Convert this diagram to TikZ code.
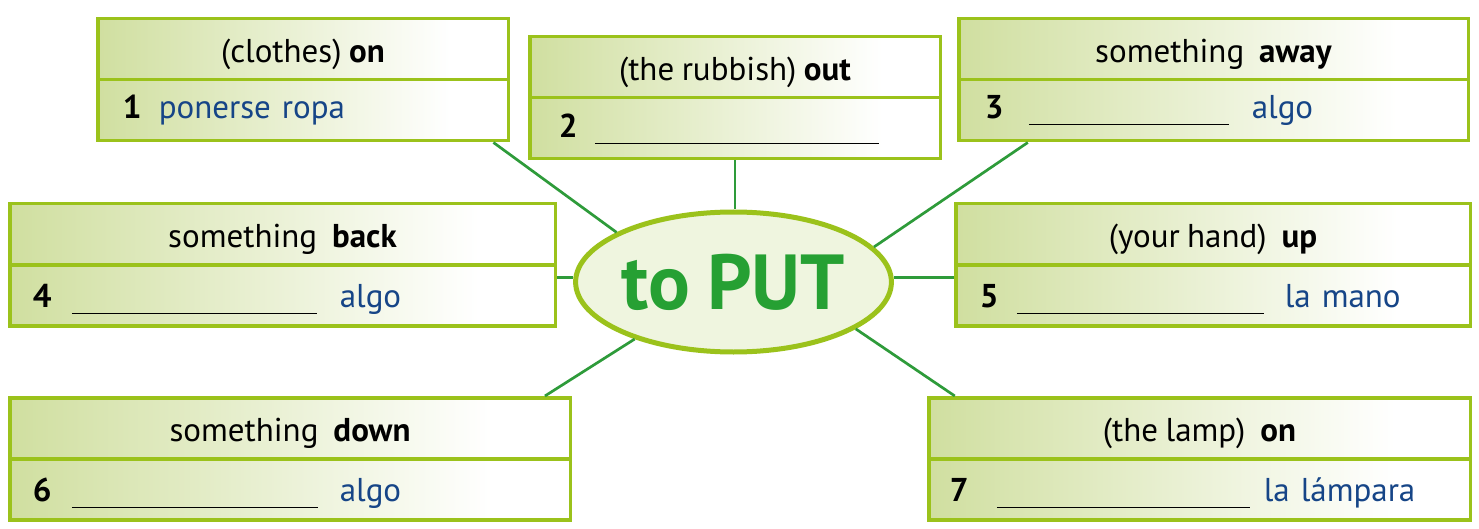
\documentclass[tikz,border=0pt]{standalone}
\usepackage{fontspec}
\setmainfont[WordSpace=0.85]{PT Sans}
\usetikzlibrary{positioning,shapes.geometric,calc}
\definecolor{rimgreen}{HTML}{9BC21B}
\definecolor{fadegreen}{HTML}{D0DFA0}
\definecolor{linkgreen}{HTML}{2E9B3A}
\definecolor{putgreen}{HTML}{26A033}
\definecolor{putfill}{HTML}{EFF5DF}
\definecolor{wordblue}{HTML}{164587}
\pgfdeclarehorizontalshading{boxfade}{100bp}{color(0bp)=(fadegreen); color(25bp)=(fadegreen); color(68bp)=(white); color(100bp)=(white)}
\newcommand{\blank}[1]{\rule[-7pt]{#1}{1.3pt}}
\tikzset{
  headbox/.style={draw=rimgreen, line width=3.5pt, shading=boxfade, minimum height=61pt,
    inner sep=0pt, text height=28pt, text depth=2pt, font=\fontsize{33}{38}\selectfont},
  rowbox/.style={headbox, align=left, text height=26pt, text depth=2pt},
  putnode/.style={ellipse, draw=rimgreen, line width=5pt, fill=putfill, minimum width=308pt,
    minimum height=140pt, inner sep=0pt, text=putgreen, font=\fontsize{78}{82}\selectfont\bfseries},
  link/.style={draw=linkgreen, line width=2.7pt}
}
\begin{document}
\begin{tikzpicture}[x=1pt,y=-1pt]
  \useasboundingbox (0,0) rectangle (1479,529);
  % centre
  \node[putnode] (put) at (733.5,282) {to PUT};
  % boxes
  \node[headbox, minimum width=410.5pt, anchor=north west] (h1) at (96,17) {(clothes) \textbf{on}};
  \node[rowbox, text width=410.5pt, text height=22pt, text depth=6pt, below=-3.5pt of h1] (r1)
    {\hspace*{25pt}\makebox[36pt][l]{\textbf{1}}\textcolor{wordblue}{ponerse ropa}};
  \node[headbox, minimum width=410.5pt, anchor=north west] (h2) at (528,35) {(the rubbish) \textbf{out}};
  \node[rowbox, text width=410.5pt, text height=23pt, text depth=5pt, below=-3.5pt of h2] (r2)
    {\hspace*{29pt}\makebox[36pt][l]{\textbf{2}}\blank{284pt}};
  \node[headbox, minimum width=509.5pt, anchor=north west] (h3) at (957,17) {something\ \ \textbf{away}};
  \node[rowbox, text width=509.5pt, text height=22pt, text depth=6pt, below=-3.5pt of h3] (r3)
    {\hspace*{26pt}\makebox[44pt][l]{\textbf{3}}\blank{200pt}\hspace{23pt}\textcolor{wordblue}{algo}};
  \node[headbox, minimum width=545.5pt, anchor=north west] (h4) at (8,202) {something\ \ \textbf{back}};
  \node[rowbox, text width=545.5pt, below=-3.5pt of h4] (r4)
    {\hspace*{23pt}\makebox[39pt][l]{\textbf{4}}\blank{245pt}\hspace{23pt}\textcolor{wordblue}{algo}};
  \node[headbox, minimum width=514.5pt, anchor=north west] (h5) at (954,202) {(your hand)\ \ \textbf{up}};
  \node[rowbox, text width=514.5pt, below=-3.5pt of h5] (r5)
    {\hspace*{24pt}\makebox[37pt][l]{\textbf{5}}\blank{247pt}\hspace{21pt}\textcolor{wordblue}{la mano}};
  \node[headbox, minimum width=560.5pt, anchor=north west] (h6) at (8,396) {something\ \ \textbf{down}};
  \node[rowbox, text width=560.5pt, below=-3.5pt of h6] (r6)
    {\hspace*{23pt}\makebox[39pt][l]{\textbf{6}}\blank{246pt}\hspace{22pt}\textcolor{wordblue}{algo}};
  \node[headbox, minimum width=541.5pt, anchor=north west] (h7) at (927,396) {(the lamp)\ \ \textbf{on}};
  \node[rowbox, text width=541.5pt, below=-3.5pt of h7] (r7)
    {\hspace*{21pt}\makebox[47pt][l]{\textbf{7}}\blank{253pt}\hspace{14pt}\textcolor{wordblue}{la lámpara}};
  % links
  \draw[link] ($(r1.south west)!0.96!(r1.south east)$) -- (put.157);
  \draw[link] (r2.south) -- (r2.south |- put.north);
  \draw[link] ($(r3.south west)!0.138!(r3.south east)$) -- (put.14);
  \coordinate (c4) at ($(r4.north east)!0.23!(r4.south east)$);
  \draw[link] (c4) -- (c4 -| put.west);
  \coordinate (c5) at ($(r5.north west)!0.23!(r5.south west)$);
  \draw[link] (c5) -- (c5 -| put.east);
  \draw[link] ($(h6.north west)!0.952!(h6.north east)$) -- (put.210);
  \draw[link] ($(h7.north west)!0.051!(h7.north east)$) -- (put.-21);
\end{tikzpicture}
\end{document}
